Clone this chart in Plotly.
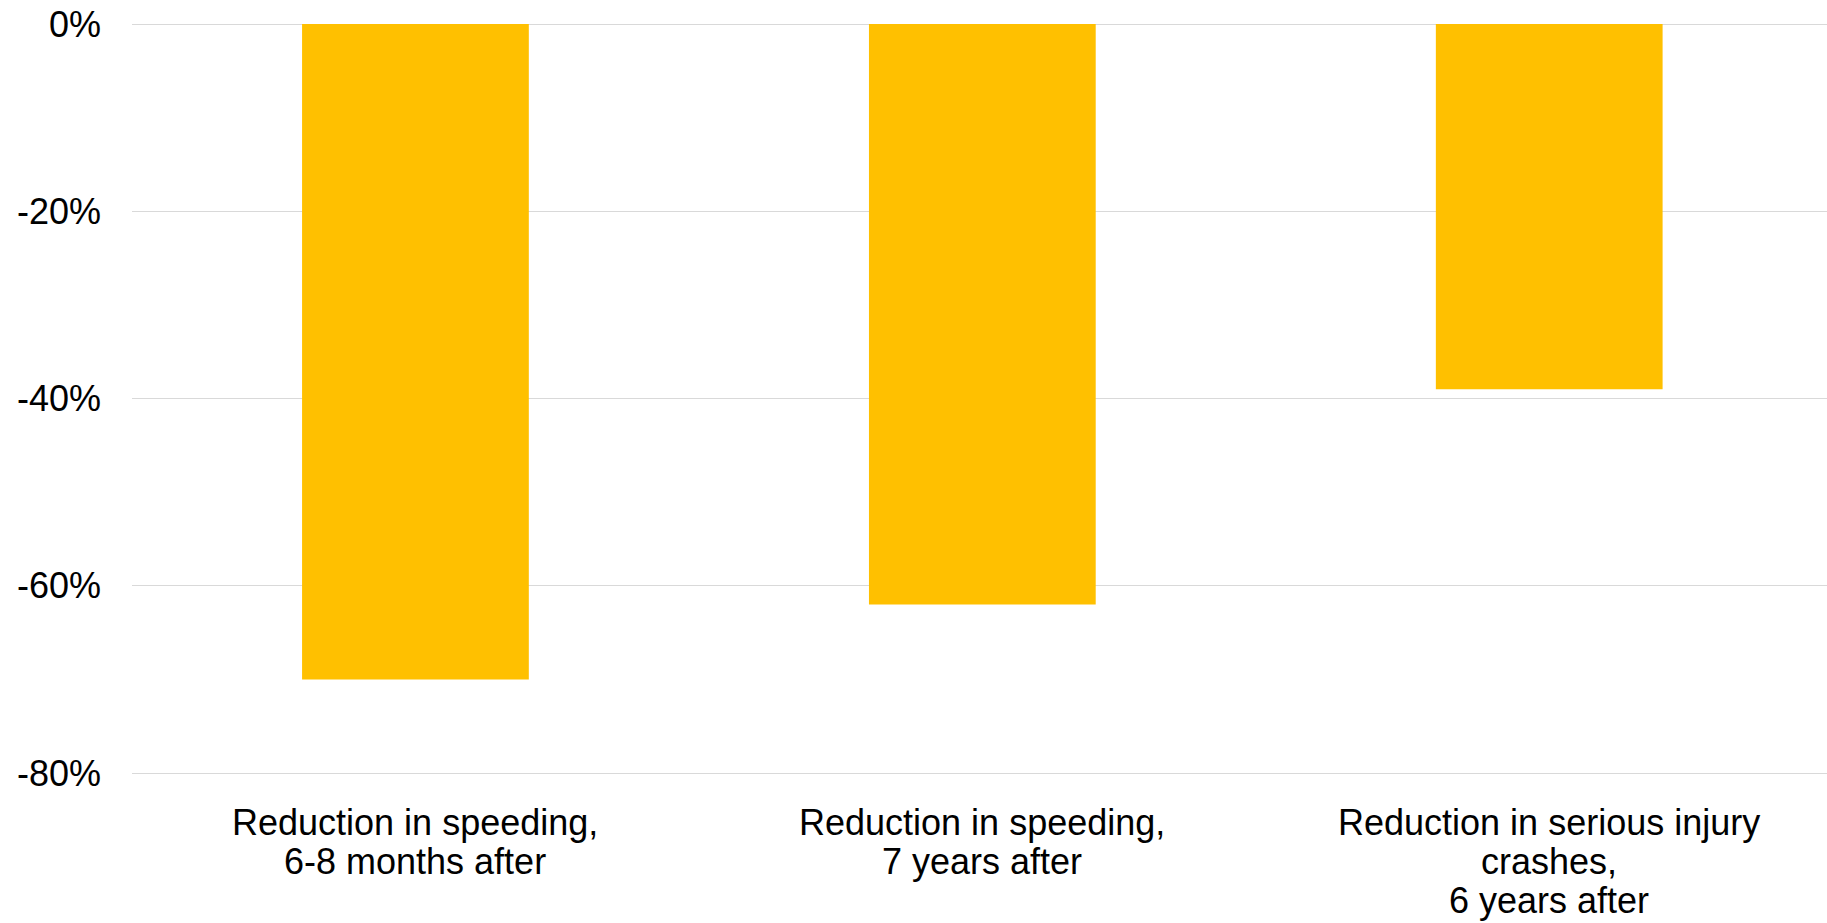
import plotly.graph_objects as go

# Categories (one list of text lines per bar) and their percentage changes
category_lines = [
    ["Reduction in speeding,", "6-8 months after"],
    ["Reduction in speeding,", "7 years after"],
    ["Reduction in serious injury", "crashes,", "6 years after"],
]
categories = [" ".join(lines) for lines in category_lines]
values = [-70, -62, -39]

y_ticks = [0, -20, -40, -60, -80]
y_tick_labels = ["0%", "-20%", "-40%", "-60%", "-80%"]

FONT = "Arial, 'Liberation Sans', sans-serif"
BAR_COLOR = "#FFC000"
GRID_COLOR = "#D9D9D9"

fig = go.Figure(
    go.Bar(
        x=categories,
        y=values,
        marker=dict(color=BAR_COLOR, line=dict(width=0)),
        hoverinfo="skip",
    )
)

# Category labels: one annotation per line to keep a tight line spacing
LINE_H = 39
annotations = []
for cat, lines in zip(categories, category_lines):
    for i, line in enumerate(lines):
        annotations.append(
            dict(
                x=cat,
                xref="x",
                y=0,
                yref="paper",
                yanchor="top",
                xanchor="center",
                yshift=-(24 + i * LINE_H),
                text=line,
                showarrow=False,
                font=dict(family=FONT, size=36, color="#000000"),
            )
        )

fig.update_layout(
    width=1827,
    height=923,
    margin=dict(l=132, r=0, t=24, b=147),
    paper_bgcolor="white",
    plot_bgcolor="white",
    bargap=0.6,
    showlegend=False,
    annotations=annotations,
    font=dict(family=FONT, size=36, color="#000000"),
    xaxis=dict(
        range=[-0.5, 2.49],
        showticklabels=False,
        showgrid=False,
        showline=False,
        zeroline=False,
        ticks="",
    ),
    yaxis=dict(
        range=[-80.3, 0],
        tickvals=y_ticks,
        ticktext=y_tick_labels,
        showgrid=True,
        gridcolor=GRID_COLOR,
        gridwidth=1,
        zeroline=True,
        zerolinecolor=GRID_COLOR,
        zerolinewidth=1,
        showline=False,
        ticks="",
        ticklabelstandoff=30,
        tickfont=dict(family=FONT, size=36, color="#000000"),
    ),
)

fig.write_html("out.html")
